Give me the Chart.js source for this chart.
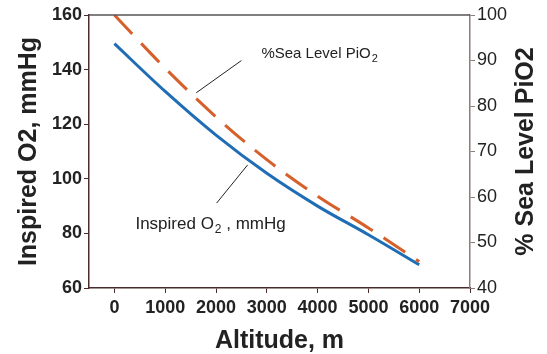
<!DOCTYPE html>
<html>
<head>
<meta charset="utf-8">
<script src="https://cdn.jsdelivr.net/npm/chart.js@4"></script>
<style>
  body { margin: 0; background: #fff; }
  canvas { display: block; }
</style>
</head>
<body>
<canvas id="altitudeChart" width="547" height="354"></canvas>
<script>
// values
const altitudes = [0, 1000, 2000, 3000, 4000, 5000, 6000];
const inspiredO2 = [149.5, 132, 116, 102, 90, 79.5, 68.5];
const pctSeaLevel = [100, 88.3, 77.6, 68.2, 60.2, 53.2, 45.8];
const xTicks = [0, 1000, 2000, 3000, 4000, 5000, 6000, 7000];
const leftTicks = [60, 80, 100, 120, 140, 160];
const rightTicks = [40, 50, 60, 70, 80, 90, 100];

const FONT = '"Liberation Sans", Arial, sans-serif';
Chart.defaults.font.family = FONT;

// callout labels, placed in x / left-axis units
const callouts = [
  { text: '%Sea Level PiO', sub: '2', after: '', size: 15, at: [2894, 145.7], from: [2499, 143.3], to: [1611, 131.5] },
  { text: 'Inspired O', sub: '2', after: ' , mmHg', size: 17, at: [414, 83.3], from: [2623, 105.1], to: [2012, 91.1] }
];

const annotate = {
  id: 'annotate',
  afterDraw(chart) {
    const { ctx, chartArea, scales: { x, y } } = chart;
    ctx.save();
    // top frame line
    ctx.strokeStyle = '#555';
    ctx.lineWidth = 1.5;
    ctx.beginPath();
    ctx.moveTo(chartArea.left, chartArea.top);
    ctx.lineTo(chartArea.right, chartArea.top);
    ctx.stroke();

    callouts.forEach(c => {
      ctx.strokeStyle = '#222';
      ctx.lineWidth = 1;
      ctx.beginPath();
      ctx.moveTo(x.getPixelForValue(c.from[0]), y.getPixelForValue(c.from[1]));
      ctx.lineTo(x.getPixelForValue(c.to[0]), y.getPixelForValue(c.to[1]));
      ctx.stroke();

      const px = x.getPixelForValue(c.at[0]);
      const py = y.getPixelForValue(c.at[1]);
      ctx.fillStyle = '#222';
      ctx.textAlign = 'left';
      ctx.textBaseline = 'middle';
      ctx.font = c.size + 'px ' + FONT;
      ctx.fillText(c.text, px, py);
      let w = ctx.measureText(c.text).width;
      ctx.font = Math.round(c.size * 0.7) + 'px ' + FONT;
      ctx.fillText(c.sub, px + w + 1, py + 5);
      w += 1 + ctx.measureText(c.sub).width;
      ctx.font = c.size + 'px ' + FONT;
      ctx.fillText(c.after, px + w, py);
    });

    // right axis title reads bottom to top like the left one
    ctx.translate(chartArea.right + 56, (chartArea.top + chartArea.bottom) / 2);
    ctx.rotate(-Math.PI / 2);
    ctx.fillStyle = '#222';
    ctx.textAlign = 'center';
    ctx.textBaseline = 'middle';
    ctx.font = 'bold 25px ' + FONT;
    ctx.fillText('% Sea Level PiO2', 0, 0);
    ctx.restore();
  }
};

const setTicks = list => scale => { scale.ticks = list.map(v => ({ value: v })); };

new Chart(document.getElementById('altitudeChart'), {
  type: 'line',
  data: {
    datasets: [
      {
        label: '%Sea Level PiO2',
        data: altitudes.map((a, i) => ({ x: a, y: pctSeaLevel[i] })),
        yAxisID: 'y1',
        borderColor: '#d5602a',
        borderWidth: 3,
        borderDash: [26, 13],
        pointRadius: 0,
        cubicInterpolationMode: 'monotone',
        fill: false
      },
      {
        label: 'Inspired O2, mmHg',
        data: altitudes.map((a, i) => ({ x: a, y: inspiredO2[i] })),
        yAxisID: 'y',
        borderColor: '#1f6db4',
        borderWidth: 3,
        pointRadius: 0,
        cubicInterpolationMode: 'monotone',
        fill: false
      }
    ]
  },
  options: {
    responsive: false,
    animation: false,
    layout: { padding: { top: 15, left: 0, right: 0, bottom: 0 } },
    plugins: { legend: { display: false }, tooltip: { enabled: false } },
    scales: {
      x: {
        type: 'linear',
        min: -500,
        max: xTicks[xTicks.length - 1],
        afterBuildTicks: setTicks(xTicks),
        afterFit: s => { s.height = 66; },
        grid: { drawOnChartArea: false, tickLength: 5, color: '#4a2c2c' },
        border: { color: '#4a2c2c', width: 1.5 },
        ticks: { font: { size: 18, weight: 'bold' }, color: '#222', padding: 4, maxRotation: 0, autoSkip: false, callback: v => String(v) },
        title: { display: true, text: 'Altitude, m', color: '#222', font: { size: 25, weight: 'bold', lineHeight: 1 }, padding: { top: 0, bottom: 0 } }
      },
      y: {
        position: 'left',
        min: leftTicks[0],
        max: leftTicks[leftTicks.length - 1],
        afterBuildTicks: setTicks(leftTicks),
        afterFit: s => { s.width = 89; },
        grid: { drawOnChartArea: false, tickLength: 5, color: '#4a2c2c' },
        border: { color: '#4a2c2c', width: 1.5 },
        ticks: { font: { size: 18, weight: 'bold' }, color: '#222', padding: 2 },
        title: { display: true, text: 'Inspired O2, mmHg', color: '#222', font: { size: 25, weight: 'bold', lineHeight: 1 }, padding: { top: 17, bottom: 0 } }
      },
      y1: {
        position: 'right',
        min: rightTicks[0],
        max: rightTicks[rightTicks.length - 1],
        afterBuildTicks: setTicks(rightTicks),
        afterFit: s => { s.width = 77; },
        grid: { drawOnChartArea: false, tickLength: 5, color: '#8c7c7a' },
        border: { color: '#8c7c7a', width: 1.5 },
        ticks: { font: { size: 18 }, color: '#222', padding: 2 }
      }
    }
  },
  plugins: [annotate]
});
</script>
</body>
</html>
